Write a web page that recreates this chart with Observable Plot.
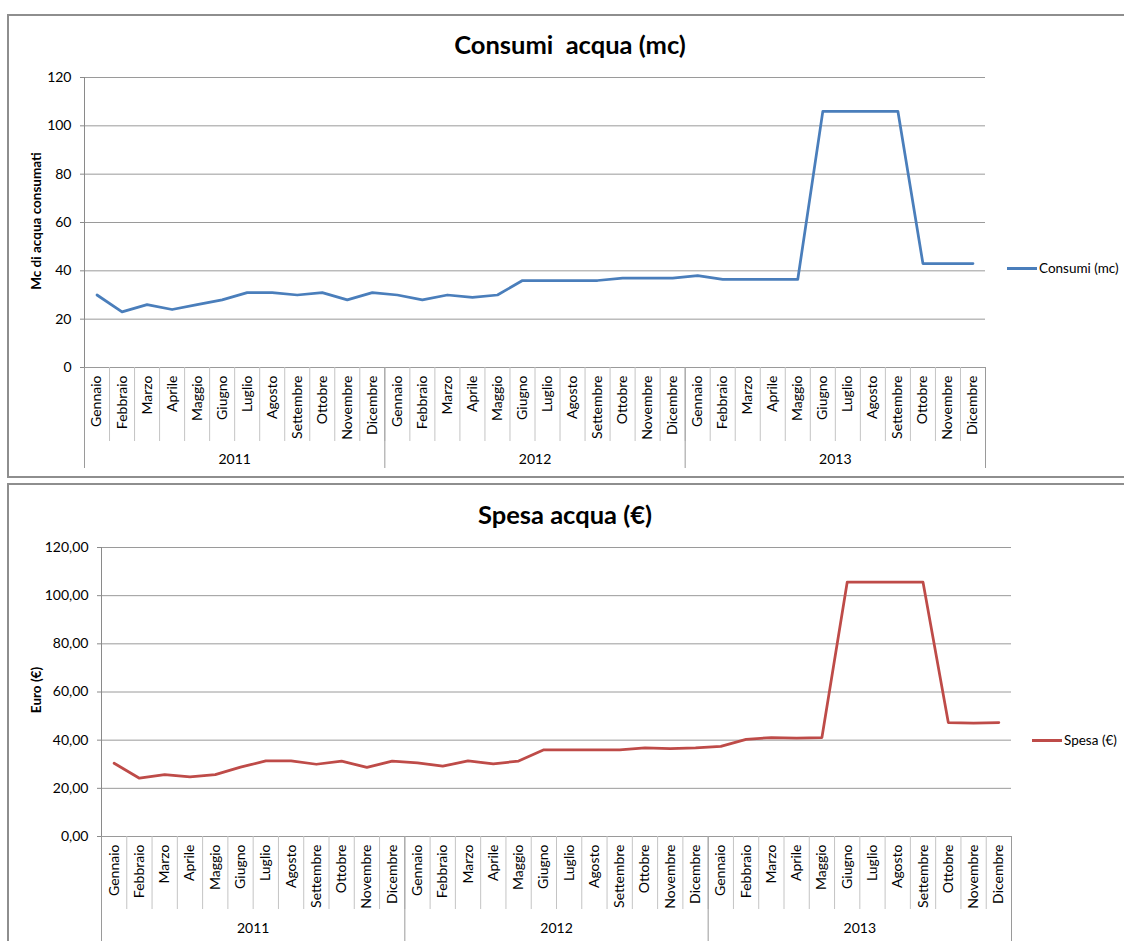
<!DOCTYPE html>
<html><head><meta charset="utf-8">
<script src="https://cdn.jsdelivr.net/npm/d3@7"></script>
<script src="https://cdn.jsdelivr.net/npm/@observablehq/plot@0.6"></script>
<style>
body{margin:0;background:#fff;font-family:Lato,"Open Sans",sans-serif;color:#000;}
#root{position:relative;width:1124px;height:941px;overflow:hidden;}
.panel{position:absolute;border:2px solid #8e8e8e;box-sizing:border-box;}
.title{position:absolute;font-weight:bold;font-size:25.5px;transform:translate(-50%,-50%);white-space:pre;}
.ylab{position:absolute;font-weight:bold;font-size:13.5px;transform:translate(-50%,-50%) rotate(-90deg);white-space:nowrap;}
.legend{position:absolute;font-size:13.5px;display:flex;align-items:center;transform:translateY(-50%);white-space:nowrap;}
.legend .sw{display:inline-block;width:30px;height:3px;margin-right:2px;}
.chart{position:absolute;left:0;}
</style></head>
<body>
<div id="root">
  <div class="panel" style="left:7px;top:14px;width:1130px;height:464px;"></div>
  <div class="panel" style="left:7px;top:483px;width:1130px;height:480px;"></div>
  <div class="title" style="left:570px;top:44px;">Consumi  acqua (mc)</div>
  <div class="title" style="left:565px;top:514px;">Spesa acqua (€)</div>
  <div class="ylab" style="left:36px;top:221px;">Mc di acqua consumati</div>
  <div class="ylab" style="left:36px;top:690px;">Euro (€)</div>
  <div class="legend" style="left:1007px;top:268px;"><span class="sw" style="background:#4a7ebb"></span>Consumi (mc)</div>
  <div class="legend" style="left:1032px;top:740px;"><span class="sw" style="background:#be4b48"></span>Spesa (€)</div>
  <div class="chart" id="c1" style="top:16px;"></div>
  <div class="chart" id="c2" style="top:486px;"></div>
</div>
<script>
const months = ["Gennaio","Febbraio","Marzo","Aprile","Maggio","Giugno","Luglio","Agosto","Settembre","Ottobre","Novembre","Dicembre"];
const years = ["2011","2012","2013"];
const yTicks = [0,20,40,60,80,100,120];
const consumi = [30,23,26,24,26,28,31,31,30,31,28,31,
                 30,28,30,29,30,36,36,36,36,37,37,37,
                 38,36.5,36.5,36.5,36.5,106,106,106,106,43,43,43];
const spesa = [30.4,24.2,25.7,24.8,25.7,28.8,31.4,31.4,30.0,31.3,28.7,31.3,
               30.6,29.2,31.4,30.2,31.3,36.0,36.0,36.0,36.0,36.8,36.5,36.8,
               37.4,40.3,41.1,40.8,41.1,105.6,105.6,105.6,105.6,47.3,47.1,47.3];

function chart({values, color, ml, mr, mt, mb, width, height, sepMonth, sepYear, yearDy, fmt}) {
  const rows = values.map((v,i)=>({i, v, month: months[i%12], year: years[Math.floor(i/12)]}));
  const plotH = height - mt - mb;
  const bounds = d3.range(rows.length+1).map(i=>i-0.5);
  const yb = bounds.filter((b,k)=>k%12===0);
  const yearRows = years.map((y,k)=>({y, c: k*12+5.5}));
  return Plot.plot({
    width, height, marginLeft: ml, marginRight: mr, marginTop: mt, marginBottom: mb,
    style: {fontFamily:"Lato, 'Open Sans', sans-serif", fontSize:"14px", color:"#000", overflow:"visible", background:"transparent"},
    x: {domain:[-0.5, rows.length-0.5], axis:null},
    y: {domain:[0,120], axis:null},
    marks: [
      Plot.gridY(yTicks, {stroke:"#9a9a9a", strokeOpacity:1}),
      Plot.axisY(yTicks, {tickSize:4, tickPadding:9, stroke:"#8a8a8a", tickFormat: fmt, label:null}),
      Plot.ruleX([-0.5], {stroke:"#8a8a8a"}),
      Plot.ruleX(bounds, {stroke:"#c4c4c4", insetTop: plotH, insetBottom: -sepMonth}),
      Plot.ruleX(yb, {stroke:"#9a9a9a", insetTop: plotH, insetBottom: -sepYear}),
      Plot.text(rows, {x:"i", text:"month", frameAnchor:"bottom", rotate:-90, textAnchor:"end", lineAnchor:"middle", dy:8}),
      Plot.text(yearRows, {x:"c", text:"y", frameAnchor:"bottom", lineAnchor:"middle", dy: yearDy}),
      Plot.line(rows, {x:"i", y:"v", stroke: color, strokeWidth: 2.75})
    ]
  });
}

document.getElementById("c1").appendChild(chart({
  values: consumi, color:"#4a7ebb", width:1124, height:460,
  ml:84, mr:139, mt:61, mb:109, sepMonth:74, sepYear:101, yearDy:92,
  fmt: d3.format("d")
}));
document.getElementById("c2").appendChild(chart({
  values: spesa, color:"#be4b48", width:1124, height:455,
  ml:101, mr:113, mt:61, mb:105, sepMonth:73, sepYear:110, yearDy:92,
  fmt: v => v.toFixed(2).replace(".", ",")
}));
</script>
</body></html>
